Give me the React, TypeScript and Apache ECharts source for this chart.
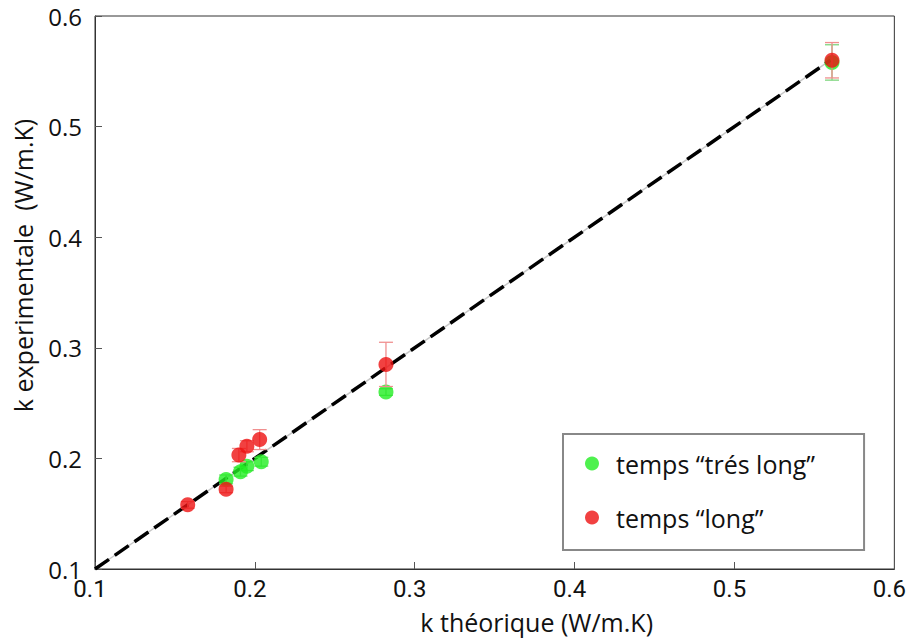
import React, { useEffect, useRef } from "react";
import * as echarts from "echarts";

const xTicks = [0.1, 0.2, 0.3, 0.4, 0.5, 0.6];
const greenX = [0.182, 0.191, 0.195, 0.204, 0.282, 0.561];
const greenY = [0.181, 0.188, 0.193, 0.197, 0.26, 0.558];
const greenErr = [0.004, 0.004, 0.004, 0.004, 0.003, 0.016];
const redX = [0.158, 0.182, 0.19, 0.195, 0.203, 0.282, 0.561];
const redY = [0.158, 0.172, 0.203, 0.211, 0.217, 0.285, 0.56];
const redErr = [0.003, 0.003, 0.006, 0.005, 0.009, 0.02, 0.016];
const fitLine = [
  [0.1, 0.1],
  [0.56, 0.56],
];
const seriesNames = ["temps \u201ctr\u00e9s long\u201d", "temps \u201clong\u201d"];

function errRender(color: string) {
  return (params: any, api: any) => {
    const x = api.value(0);
    const lo = api.coord([x, api.value(1)]);
    const hi = api.coord([x, api.value(2)]);
    const half = 7;
    const style = { stroke: color, lineWidth: 1.3 };
    return {
      type: "group",
      children: [
        { type: "line", shape: { x1: lo[0], y1: lo[1], x2: hi[0], y2: hi[1] }, style },
        { type: "line", shape: { x1: lo[0] - half, y1: lo[1], x2: lo[0] + half, y2: lo[1] }, style },
        { type: "line", shape: { x1: hi[0] - half, y1: hi[1], x2: hi[0] + half, y2: hi[1] }, style },
      ],
    };
  };
}

export default function App() {
  const ref = useRef<HTMLDivElement>(null);
  useEffect(() => {
    document.body.style.margin = "0";
    const chart = echarts.init(ref.current!, null, { renderer: "svg" });
    const greenPts = greenX.map((x, i) => [x, greenY[i]]);
    const redPts = redX.map((x, i) => [x, redY[i]]);
    const greenErrData = greenX.map((x, i) => [x, greenY[i] - greenErr[i], greenY[i] + greenErr[i]]);
    const redErrData = redX.map((x, i) => [x, redY[i] - redErr[i], redY[i] + redErr[i]]);
    chart.setOption({
      animation: false,
      backgroundColor: "#fff",
      grid: {
        left: 95,
        top: 16,
        right: 15,
        bottom: 70,
        show: true,
        borderColor: "#333",
        borderWidth: 1,
      },
      legend: {
        data: [
          { name: seriesNames[0], icon: "circle" },
          { name: seriesNames[1], icon: "circle" },
        ],
        orient: "vertical",
        left: 563,
        top: 434,
        itemWidth: 14,
        itemHeight: 14,
        itemGap: 29,
        padding: [17, 49, 20, 22],
        borderColor: "#888",
        borderWidth: 2,
        backgroundColor: "#fff",
        textStyle: { fontFamily: "Open Sans", fontSize: 25, color: "#111", padding: [0, 0, 0, 12] },
      },
      xAxis: {
        type: "value",
        min: xTicks[0],
        max: xTicks[xTicks.length - 1],
        interval: 0.1,
        name: "k th\u00e9orique (W/m.K)",
        nameLocation: "middle",
        nameGap: 40,
        nameTextStyle: {
          fontFamily: "Open Sans",
          fontSize: 25,
          color: "#111",
          padding: [0, 0, 0, 84],
        },
        axisLine: { show: true, onZero: false, lineStyle: { color: "#333", width: 1 } },
        axisTick: { show: true, inside: true, length: 7, lineStyle: { color: "#555" } },
        splitLine: { show: false },
        axisLabel: {
          margin: 10,
          fontFamily: "Roboto",
          fontSize: 24,
          lineHeight: 20,
          color: "#111",
          padding: [0, 10, 0, 0],
          formatter: (v: number) => v.toFixed(1),
        },
      },
      yAxis: {
        type: "value",
        min: 0.1,
        max: 0.6,
        interval: 0.1,
        name: "k experimentale  (W/m.K)",
        nameLocation: "middle",
        nameGap: 60,
        nameTextStyle: { fontFamily: "Open Sans", fontSize: 25, color: "#111", padding: [0, 0, 0, 54] },
        axisLine: { show: true, onZero: false, lineStyle: { color: "#333", width: 1 } },
        axisTick: { show: true, inside: true, length: 7, lineStyle: { color: "#555" } },
        splitLine: { show: false },
        axisLabel: {
          margin: 13,
          fontFamily: "Open Sans",
          fontSize: 24,
          lineHeight: 20,
          color: "#111",
          formatter: (v: number) => v.toFixed(1),
        },
      },
      series: [
        {
          type: "line",
          data: fitLine,
          symbol: "none",
          lineStyle: { color: "#c8c8c8", width: 1.5 },
          silent: true,
          z: 1,
        },
        {
          type: "line",
          data: fitLine,
          symbol: "none",
          lineStyle: { color: "#000", width: 3.5, type: [17, 7] },
          silent: true,
          z: 2,
        },
        {
          type: "custom",
          renderItem: errRender("#7fd67f"),
          data: greenErrData,
          z: 3,
          silent: true,
        },
        {
          type: "scatter",
          name: seriesNames[0],
          data: greenPts,
          symbolSize: 15,
          itemStyle: { color: "#22ee22" },
          z: 4,
        },
        {
          type: "custom",
          renderItem: errRender("#f08f8f"),
          data: redErrData,
          z: 5,
          silent: true,
        },
        {
          type: "scatter",
          name: seriesNames[1],
          data: redPts,
          symbolSize: 15,
          itemStyle: { color: "#ee1111" },
          z: 6,
        },
      ],
    });
    return () => chart.dispose();
  }, []);
  return <div ref={ref} style={{ width: 919, height: 639 }} />;
}
